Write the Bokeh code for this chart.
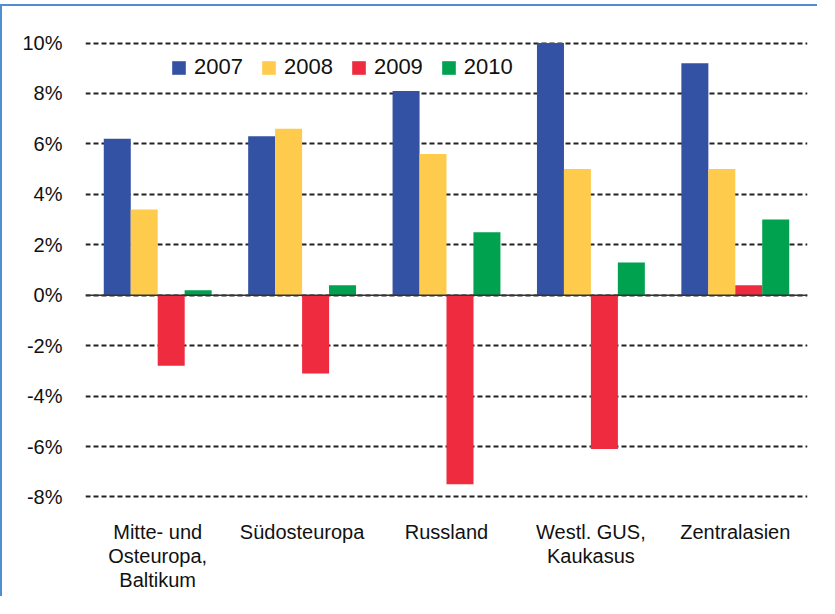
from bokeh.plotting import figure
from bokeh.models import ColumnDataSource, FixedTicker, PrintfTickFormatter, Span, Legend, LegendItem, FactorRange
from bokeh.transform import dodge
from bokeh.embed import file_html
from bokeh.resources import INLINE

categories = ["Mitte- und\nOsteuropa,\nBaltikum", "Südosteuropa", "Russland", "Westl. GUS,\nKaukasus", "Zentralasien"]
years = ["2007", "2008", "2009", "2010"]
v2007 = [6.2, 6.3, 8.1, 10.0, 9.2]
v2008 = [3.4, 6.6, 5.6, 5.0, 5.0]
v2009 = [-2.8, -3.1, -7.5, -6.1, 0.4]
v2010 = [0.2, 0.4, 2.5, 1.3, 3.0]
y_ticks = [-8, -6, -4, -2, 0, 2, 4, 6, 8, 10]
colors = ["#3352A4", "#FFCB4C", "#EE2B3F", "#00A14F"]

src = ColumnDataSource(dict(cat=categories, y2007=v2007, y2008=v2008, y2009=v2009, y2010=v2010))

p = figure(width=817, height=592, x_range=FactorRange(*categories), y_range=(-8.1, 10.1),
           output_backend="svg", toolbar_location=None,
           min_border_left=83, min_border_right=12, min_border_top=34, min_border_bottom=99)
p.styles = {"border-left": "2px solid #4F8FCF", "border-top": "2px solid #4F8FCF", "margin-top": "4px"}
p.outline_line_color = None
p.background_fill_color = "white"

offsets = [-0.28, -0.0935, 0.0935, 0.28]
cols = ["y2007", "y2008", "y2009", "y2010"]
renderers = []
for col, off, c in zip(cols, offsets, colors):
    r = p.vbar(x=dodge("cat", off, range=p.x_range), top=col, bottom=0, width=0.187,
               source=src, fill_color=c, line_color=None)
    renderers.append(r)

p.add_layout(Span(location=0, dimension="width", line_color="#333333", line_width=1.5))

p.yaxis.ticker = FixedTicker(ticks=y_ticks)
p.yaxis.formatter = PrintfTickFormatter(format="%d%%")
p.yaxis.axis_line_color = None
p.yaxis.major_tick_line_color = None
p.yaxis.minor_tick_line_color = None
p.yaxis.major_label_text_font = "Liberation Sans"
p.yaxis.major_label_text_font_size = "20px"
p.yaxis.major_label_text_color = "#111111"
p.yaxis.major_label_standoff = 17

p.xaxis.axis_line_color = None
p.xaxis.major_tick_line_color = None
p.xaxis.major_label_text_font = "Liberation Sans"
p.xaxis.major_label_text_font_size = "20px"
p.xaxis.major_label_text_color = "#111111"
p.xaxis.major_label_standoff = 15
p.xaxis.major_label_text_line_height = 1.1

p.xgrid.grid_line_color = None
p.ygrid.grid_line_color = "#222222"
p.ygrid.grid_line_width = 2
p.ygrid.grid_line_dash = "5 3"

legend = Legend(items=[LegendItem(label=y, renderers=[r]) for y, r in zip(years, renderers)],
                orientation="horizontal", location=(85, 419),
                glyph_width=17, glyph_height=17, label_standoff=7, spacing=17,
                label_text_font="Liberation Sans", label_text_font_size="22px",
                label_text_color="#111111", label_height=26,
                border_line_color=None, background_fill_alpha=0, padding=0, margin=0)
p.add_layout(legend, "center")

open("out.html", "w").write(file_html(p, INLINE))
